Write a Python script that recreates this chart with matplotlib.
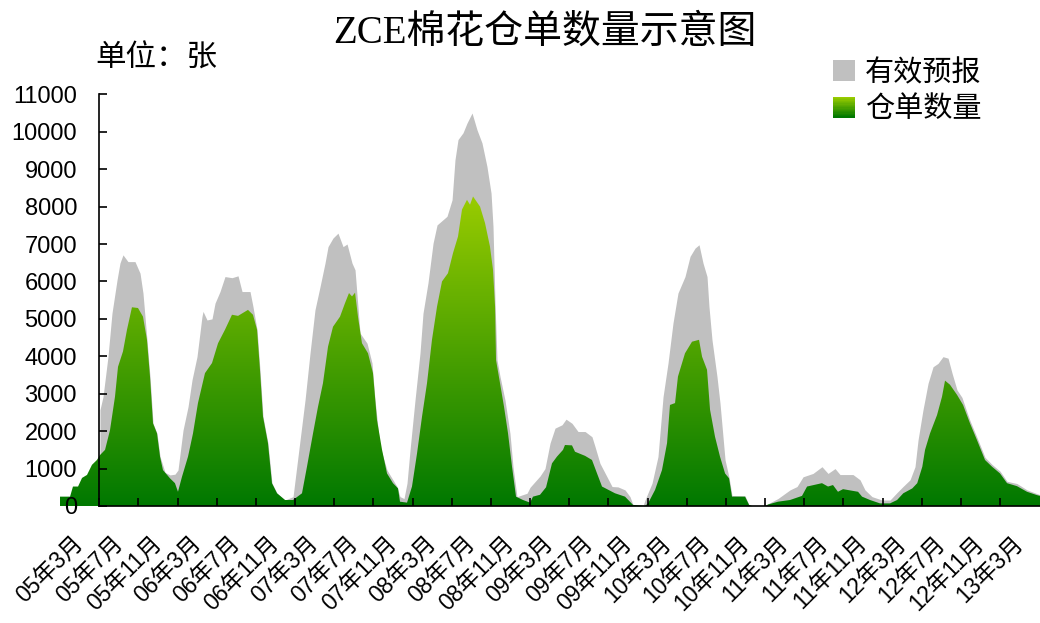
import numpy as np
import matplotlib
matplotlib.use('Agg')
import matplotlib.pyplot as plt
from matplotlib.colors import LinearSegmentedColormap
from matplotlib.patches import Patch, Rectangle
from matplotlib.legend_handler import HandlerBase

plt.rcParams['font.family'] = ['Liberation Sans', 'Noto Sans CJK SC']
CJK = ['Noto Sans CJK SC', 'DejaVu Sans']

# x = months since the start of the series (early 2005)
receipt_x = [0.0, 1.03, 1.33, 1.85, 2.26, 2.77, 3.28, 3.79, 4.10, 4.62,
             5.13, 5.64, 5.95, 6.46, 6.87, 7.38, 8.0, 8.51, 8.92, 9.23,
             9.54, 9.95, 10.26, 10.56, 11.28, 11.79, 12.10, 12.51, 13.13, 13.64,
             14.15, 14.87, 15.59, 16.21, 16.92, 17.64, 18.26, 19.28, 19.79, 20.21,
             20.51, 20.82, 21.33, 21.74, 22.26, 23.08, 23.90, 24.82, 25.33, 25.95,
             26.46, 26.97, 27.49, 28.0, 28.72, 29.23, 29.64, 29.95, 30.26, 30.56,
             30.97, 31.59, 32.10, 32.51, 33.03, 33.54, 34.15, 34.67, 34.87, 35.59,
             36.10, 36.62, 37.13, 37.64, 38.15, 38.67, 39.18, 39.79, 40.31, 40.82,
             41.23, 41.74, 42.05, 42.36, 43.08, 43.59, 44.10, 44.41, 44.62, 44.72,
             45.13, 45.54, 45.95, 46.36, 46.77, 47.49, 48.21, 48.51, 49.23, 49.85,
             50.46, 50.97, 51.59, 51.79, 52.51, 52.82, 53.85, 54.56, 55.08, 55.59,
             56.92, 57.95, 58.77, 60.0, 60.31, 61.03, 61.74, 62.26, 62.56, 63.08,
             63.38, 64.10, 64.82, 65.54, 65.85, 66.36, 66.67, 67.18, 67.69, 68.21,
             68.62, 68.92, 70.26, 70.67, 70.97, 72.31, 72.62, 73.64, 74.87, 76.10,
             76.62, 78.15, 78.77, 79.28, 79.79, 80.31, 81.85, 82.26, 83.08, 84.10,
             85.13, 85.85, 86.49, 87.41, 87.92, 88.44, 88.72, 89.23, 89.95, 90.46,
             90.77, 91.28, 92.0, 92.62, 93.33, 94.05, 94.87, 95.59, 96.41, 97.13,
             98.15, 99.18, 100.21, 100.51]
receipts = [250, 250, 520, 520, 750, 830, 1100, 1230, 1360, 1500,
            2030, 2920, 3720, 4130, 4710, 5310, 5290, 5060, 4440, 3460,
            2210, 1940, 1320, 960, 740, 610, 380, 780, 1320, 1940,
            2750, 3550, 3820, 4350, 4710, 5110, 5080, 5240, 5110, 4710,
            3640, 2390, 1680, 610, 340, 160, 160, 340, 1050, 1940,
            2650, 3280, 4260, 4790, 5060, 5420, 5690, 5600, 5700, 5060,
            4350, 4080, 3550, 2300, 1500, 870, 610, 470, 115, 90,
            520, 1410, 2390, 3280, 4440, 5330, 6000, 6220, 6760, 7200,
            7920, 8180, 8050, 8270, 8000, 7560, 6930, 6310, 5330, 3900,
            3280, 2650, 1940, 1050, 250, 160, 90, 250, 300, 500,
            1140, 1320, 1500, 1630, 1620, 1450, 1340, 1230, 870, 520,
            340, 250, 30, 0, 70, 430, 960, 1680, 2700, 2750,
            3460, 4080, 4390, 4440, 3990, 3640, 2570, 1850, 1320, 870,
            740, 250, 250, 30, 0, 0, 40, 115, 160, 270,
            520, 610, 520, 560, 380, 450, 380, 250, 160, 70,
            70, 160, 340, 470, 610, 1050, 1500, 1940, 2430, 2920,
            3350, 3240, 2970, 2700, 2210, 1760, 1230, 1050, 870, 610,
            530, 380, 290, 270]

# top of the grey area: receipts + effective forecasts
total_x = [4.10, 4.41, 4.92, 5.33, 5.85, 6.15, 6.46, 6.97, 7.69, 8.21,
           8.51, 8.92, 9.23, 9.54, 9.95, 10.26, 10.77, 11.28, 11.79, 12.10,
           12.62, 13.13, 13.54, 14.05, 14.56, 14.67, 15.08, 15.59, 15.90, 16.41,
           16.92, 17.64, 18.26, 18.67, 19.49, 19.79, 20.21, 20.51, 20.82, 21.33,
           21.74, 22.26, 23.08, 23.90, 24.62, 25.13, 25.64, 26.15, 26.67, 27.18,
           27.49, 28.0, 28.51, 29.03, 29.44, 29.95, 30.26, 30.77, 31.49, 32.0,
           32.31, 32.82, 33.54, 34.56, 34.87, 35.28, 35.59, 35.90, 36.41, 36.92,
           37.23, 37.74, 38.26, 38.67, 39.69, 40.21, 40.51, 40.82, 41.33, 41.74,
           42.26, 42.77, 43.28, 43.79, 44.21, 44.41, 44.62, 44.82, 45.13, 45.64,
           46.15, 46.46, 46.87, 47.90, 48.21, 49.23, 49.74, 50.26, 50.77, 51.49,
           51.90, 52.51, 53.13, 53.85, 54.56, 54.87, 55.38, 56.10, 56.62, 57.23,
           57.95, 58.46, 58.77, 59.79, 60.0, 60.72, 61.33, 61.85, 62.36, 62.87,
           63.38, 64.10, 64.62, 65.13, 65.54, 65.95, 66.36, 66.56, 66.87, 67.38,
           67.69, 68.21, 68.62, 68.92, 70.26, 70.67, 70.97, 72.31, 72.62, 73.64,
           74.87, 75.59, 76.21, 77.23, 78.15, 78.77, 79.49, 80.0, 81.33, 82.05,
           82.56, 83.28, 84.31, 85.13, 85.85, 86.46, 87.18, 87.69, 88.0, 88.51,
           89.03, 89.54, 90.05, 90.56, 91.08, 91.49, 92.0, 92.51, 93.03, 93.33,
           94.05, 94.87, 95.59, 96.41, 97.13, 98.15, 99.18, 100.21, 100.51]
total_top = [2570, 2920, 3990, 5150, 6040, 6490, 6710, 6530, 6530, 6220,
             5690, 4440, 3460, 2210, 1940, 1320, 900, 830, 850, 960,
             2030, 2650, 3370, 3990, 5060, 5200, 4970, 5000, 5420, 5730,
             6130, 6100, 6150, 5730, 5730, 5330, 4710, 3640, 2390, 1680,
             610, 340, 160, 250, 1760, 2830, 4080, 5240, 5860, 6490,
             6930, 7160, 7290, 6930, 7000, 6490, 6310, 4620, 4350, 3820,
             2830, 1590, 960, 520, 250, 200, 610, 1500, 2830, 4080,
             5150, 5960, 7020, 7510, 7740, 8180, 9250, 9790, 9970, 10230,
             10500, 10050, 9700, 9070, 8360, 7470, 5400, 3900, 3460, 2830,
             1940, 1050, 250, 340, 500, 800, 1000, 1680, 2080, 2170,
             2320, 2210, 1990, 1990, 1850, 1590, 1140, 780, 520, 510,
             430, 250, 30, 0, 160, 610, 1320, 2920, 3820, 4890,
             5690, 6130, 6670, 6890, 6980, 6490, 6130, 5330, 4440, 3460,
             2750, 1230, 760, 280, 270, 30, 0, 0, 60, 200,
             430, 520, 780, 870, 1050, 870, 1000, 840, 840, 700,
             430, 250, 160, 160, 360, 520, 700, 1050, 1760, 2570,
             3280, 3720, 3810, 3990, 3950, 3550, 3100, 2900, 2500, 2280,
             1830, 1300, 1110, 930, 660, 600, 430, 330, 300]

x_labels = ['05年3月', '05年7月', '05年11月', '06年3月', '06年7月', '06年11月',
            '07年3月', '07年7月', '07年11月', '08年3月', '08年7月', '08年11月',
            '09年3月', '09年7月', '09年11月', '10年3月', '10年7月', '10年11月',
            '11年3月', '11年7月', '11年11月', '12年3月', '12年7月', '12年11月',
            '13年3月']

TICK_START = 4.03
TICK_STEP = 4.017
X_END = 100.51

green_cmap = LinearSegmentedColormap.from_list('cotton', ['#007800', '#99cc00'])


class GradientSwatch(HandlerBase):
    def create_artists(self, legend, orig_handle, xdescent, ydescent,
                       width, height, fontsize, trans):
        n = 16
        parts = []
        for i in range(n):
            parts.append(Rectangle((-xdescent, -ydescent + i * height / n),
                                   width, height / n * 1.05,
                                   facecolor=green_cmap(i / (n - 1)),
                                   edgecolor='none', transform=trans))
        return parts


fig = plt.figure(figsize=(10.4, 6.23), dpi=100)
ax = fig.add_axes([60 / 1040, 117 / 623, 980 / 1040, 411.7 / 623])

ax.fill_between(total_x, 0, total_top, color='#c0c0c0', lw=0, zorder=1)
shape = ax.fill_between(receipt_x, 0, receipts, facecolor='none', lw=0, zorder=1.1)
ramp = np.linspace(0, 1, 256).reshape(-1, 1)
img = ax.imshow(ramp, cmap=green_cmap, origin='lower', aspect='auto',
                extent=[receipt_x[0], receipt_x[-1], 0, max(receipts)],
                zorder=1.1, interpolation='bilinear')
img.set_clip_path(shape.get_paths()[0], transform=ax.transData)

ax.set_xlim(0, X_END)
ax.set_ylim(0, 11000)
ax.set_axisbelow(False)

for side in ['top', 'right']:
    ax.spines[side].set_visible(False)
ax.spines['left'].set_position(('data', TICK_START))
ax.spines['bottom'].set_bounds(TICK_START, X_END)
for side in ['left', 'bottom']:
    ax.spines[side].set_linewidth(1.2)

ax.set_xticks(TICK_START + TICK_STEP * np.arange(24))
ax.set_xticks(TICK_START - TICK_STEP / 2 + TICK_STEP * np.arange(25),
              labels=x_labels, minor=True)
ax.tick_params(axis='x', which='major', direction='in', length=6, width=1.2,
               labelbottom=False)
ax.tick_params(axis='x', which='minor', length=0, pad=24, labelsize=16.5)
for lab in ax.get_xticklabels(minor=True):
    lab.set_rotation(45)
    lab.set_ha('right')
    lab.set_va('center')
    lab.set_rotation_mode('anchor')

ax.set_yticks(np.arange(0, 11001, 1000))
ax.tick_params(axis='y', direction='in', length=6, width=1.2, pad=16, labelsize=17)

fig.text(0.524, 0.947, 'ZCE棉花仓单数量示意图', fontsize=28,
         family=['Liberation Serif', 'Noto Sans CJK SC'], ha='center', va='center')
fig.text(0.0913, 0.907, '单位：张', fontsize=22, family=CJK, ha='left', va='center')

gray_h = Patch(facecolor='#c0c0c0', edgecolor='none', label='有效预报')
green_h = Patch(facecolor='#4ca200', edgecolor='none', label='仓单数量')
fig.legend(handles=[gray_h, green_h], handler_map={green_h: GradientSwatch()},
           loc='upper left', bbox_to_anchor=(833 / 1040, 1 - 58 / 623),
           frameon=False, prop={'family': CJK, 'size': 21},
           handlelength=0.75, handleheight=0.72, handletextpad=0.35,
           labelspacing=0.22, borderpad=0, borderaxespad=0)

fig.savefig('out.png', dpi=100)
